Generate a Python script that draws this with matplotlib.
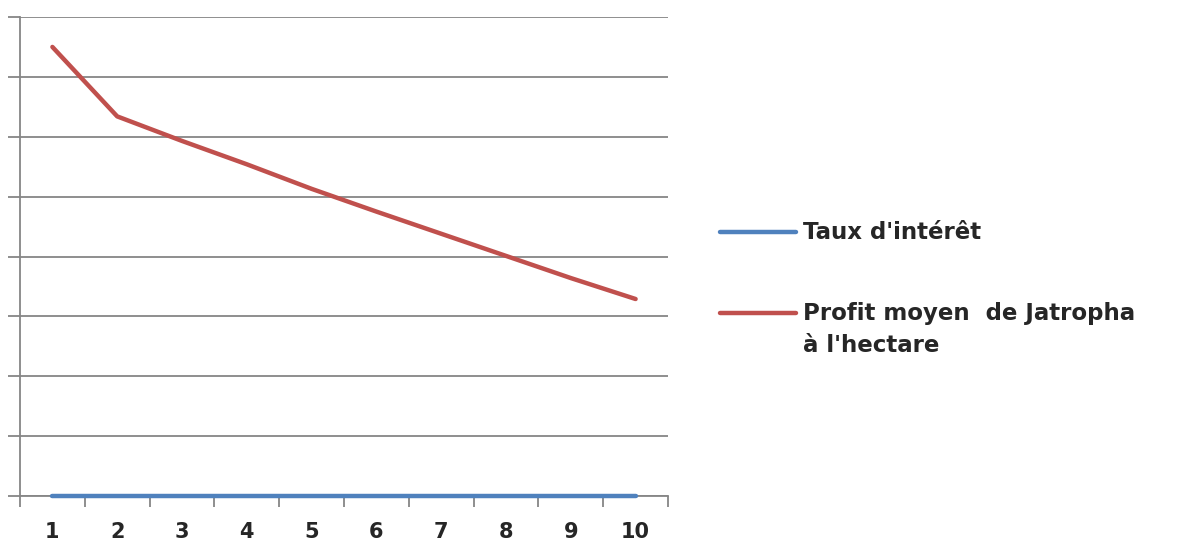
import matplotlib
matplotlib.use("Agg")
import matplotlib.pyplot as plt
from matplotlib.lines import Line2D
from matplotlib.ticker import MultipleLocator

# data (y axis has no labels, units = gridlines)
years = [1, 2, 3, 4, 5, 6, 7, 8, 9, 10]
taux = [0, 0, 0, 0, 0, 0, 0, 0, 0, 0]
profit = [7.50, 6.34, 5.93, 5.54, 5.13, 4.75, 4.38, 4.01, 3.64, 3.29]
labels = ["Taux d'intérêt", "Profit moyen  de Jatropha\nà l'hectare"]

blue = '#4F81BD'
red = '#C0504D'
grid = '#868686'
txt = '#262626'

W, H = 1196, 541
fig = plt.figure(figsize=(W/100, H/100), dpi=100)
ax = fig.add_axes([20/W, 45/H, 648/W, 479/H])

ax.plot(years, taux, color=blue, lw=3.2, solid_capstyle='round', zorder=3, clip_on=False)
ax.plot(years, profit, color=red, lw=3.2, solid_capstyle='round', zorder=3)

ax.set_xlim(0.5, 10.5)
ax.set_ylim(0, 8)
ax.yaxis.set_major_locator(MultipleLocator(1))
ax.set_yticklabels([])
ax.grid(axis='y', color=grid, lw=1.3)
ax.set_axisbelow(True)

# category ticks sit between the labels
ax.set_xticks(years)
ax.set_xticklabels([str(y) for y in years], fontsize=15, fontweight='bold', color=txt)
ax.tick_params(axis='x', length=0, pad=19)
ax.set_xticks([x + 0.5 for x in [0] + years], minor=True)
ax.tick_params(axis='x', which='minor', length=8, width=1.3, color=grid, direction='out')
ax.tick_params(axis='y', length=9, width=1.3, color=grid, direction='out')

for side in ['top', 'right']:
    ax.spines[side].set_visible(False)
for side in ['left', 'bottom']:
    ax.spines[side].set_color(grid)
    ax.spines[side].set_linewidth(1.3)

# legend drawn by hand: the handle lines up with the first text line
rows = [(232, blue, labels[0]), (313, red, labels[1])]
for y, col, lab in rows:
    fig.add_artist(Line2D([720/W, 796/W], [1 - y/H, 1 - y/H], color=col, lw=3.2,
                          solid_capstyle='round', transform=fig.transFigure))
    fig.text(803/W, 1 - (y - 11)/H, lab, fontsize=16.5, fontweight='bold', color=txt,
             va='top', ha='left', linespacing=1.5)

fig.savefig('out.png', dpi=100)
